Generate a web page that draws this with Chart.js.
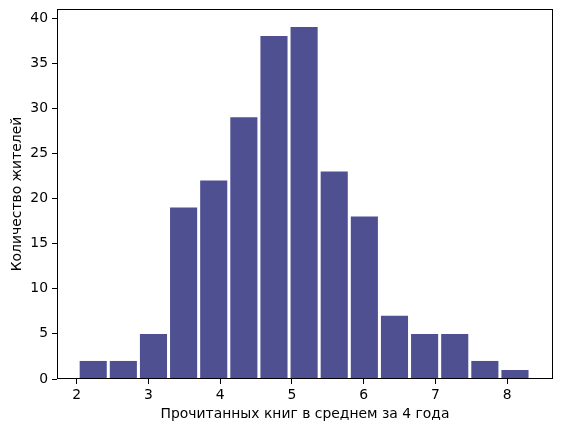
<!DOCTYPE html>
<html>
<head>
<meta charset="utf-8">
<script src="https://cdn.jsdelivr.net/npm/chart.js@4/dist/chart.umd.min.js"></script>
<style>
  html, body { margin: 0; padding: 0; background: #fff; }
  #wrap { width: 562px; height: 432px; position: relative; }
</style>
</head>
<body>
<div id="wrap"><canvas id="c" width="562" height="432"></canvas></div>
<script>
// Bin centres (books read on average over 4 years)
const binCenters = [2.23, 2.65, 3.07, 3.49, 3.91, 4.33, 4.75, 5.17, 5.59, 6.01, 6.43, 6.85, 7.27, 7.69, 8.11];
// Number of residents per bin
const counts = [2, 2, 5, 19, 22, 29, 38, 39, 23, 18, 7, 5, 5, 2, 1];
const xTicks = [2, 3, 4, 5, 6, 7, 8];
const yTicks = [0, 5, 10, 15, 20, 25, 30, 35, 40];
const xLabel = 'Прочитанных книг в среднем за 4 года';
const yLabel = 'Количество жителей';

const FONT = { family: 'DejaVu Sans', size: 13.9 };

const frame = {
  id: 'frame',
  afterDatasetsDraw(chart) {
    const a = chart.chartArea, ctx = chart.ctx;
    ctx.save();
    ctx.strokeStyle = '#000';
    ctx.lineWidth = 1;
    const l = Math.round(a.left) + 0.5, r = Math.round(a.right) - 0.5;
    const t = Math.round(a.top) + 0.5, b = Math.round(a.bottom) - 0.5;
    ctx.strokeRect(l, t, r - l, b - t);
    ctx.restore();
  }
};

new Chart(document.getElementById('c'), {
  type: 'bar',
  data: {
    datasets: [{
      data: binCenters.map((x, i) => ({ x: x, y: counts[i] })),
      backgroundColor: 'rgb(79,80,146)',
      borderWidth: 0,
      categoryPercentage: 1.0,
      barPercentage: 0.9
    }]
  },
  options: {
    responsive: false,
    animation: false,
    devicePixelRatio: 1,
    layout: { padding: { left: 0, right: 9, top: 9, bottom: 0 } },
    plugins: { legend: { display: false }, tooltip: { enabled: false } },
    scales: {
      x: {
        type: 'linear',
        offset: false,
        min: 1.725,
        max: 8.64,
        afterBuildTicks(s) { s.ticks = xTicks.map(v => ({ value: v })); },
        afterFit(s) { s.height = 53; s.paddingLeft = 0; s.paddingRight = 0; },
        grid: { offset: false, drawOnChartArea: false, drawTicks: true, tickLength: 5, color: '#000', tickWidth: 1 },
        border: { display: false },
        ticks: { color: '#000', font: FONT, padding: 3, maxRotation: 0, autoSkip: false },
        title: { display: true, text: xLabel, color: '#000', font: FONT, padding: { top: 0, bottom: 9 } }
      },
      y: {
        type: 'linear',
        min: 0,
        max: 41,
        afterBuildTicks(s) { s.ticks = yTicks.map(v => ({ value: v })); },
        afterFit(s) { s.width = 57; s.paddingTop = 0; s.paddingBottom = 0; },
        grid: { drawOnChartArea: false, drawTicks: true, tickLength: 5, color: '#000', tickWidth: 1 },
        border: { display: false },
        ticks: { color: '#000', font: FONT, padding: 4, autoSkip: false },
        title: { display: true, text: yLabel, color: '#000', font: FONT, padding: { top: 9, bottom: 0 } }
      }
    }
  },
  plugins: [frame]
});
</script>
</body>
</html>
